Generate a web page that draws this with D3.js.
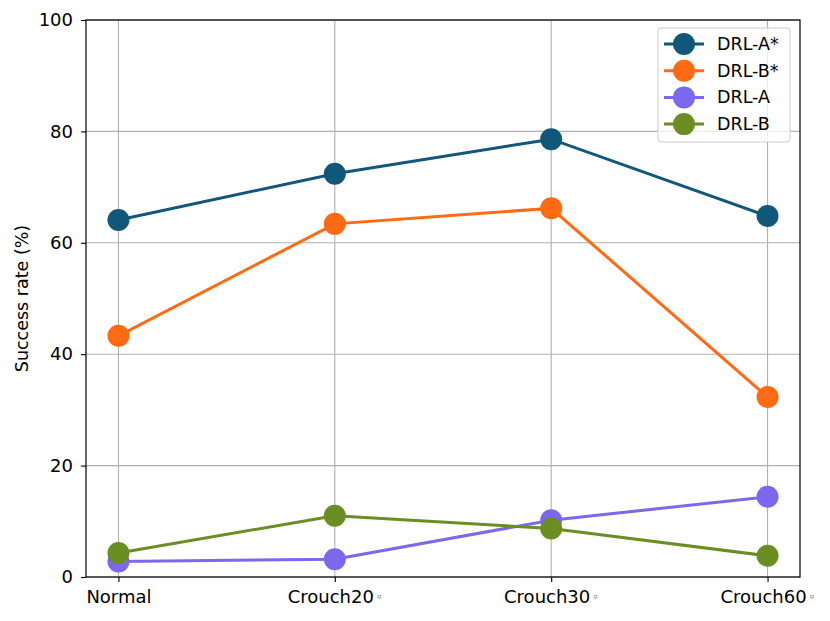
<!DOCTYPE html>
<html>
<head>
<meta charset="utf-8">
<script src="https://cdn.jsdelivr.net/npm/d3@7"></script>
<style>
  body { margin: 0; background: #fff; }
  text { font-family: "DejaVu Sans", sans-serif; }
</style>
</head>
<body>
<div id="chart"></div>
<script>
// data
var categories = ['Normal', 'Crouch20', 'Crouch30', 'Crouch60'];
var seriesNames = ['DRL-A*', 'DRL-B*', 'DRL-A', 'DRL-B'];
var drlAStar = [64.1, 72.4, 78.6, 64.8];
var drlBStar = [43.3, 63.4, 66.2, 32.3];
var drlA = [2.8, 3.2, 10.2, 14.4];
var drlB = [4.3, 11.0, 8.7, 3.8];
var colors = ['#10577a', '#ff6a13', '#7b68ee', '#6b8e23'];
var yTicks = [0, 20, 40, 60, 80, 100];

var series = [drlAStar, drlBStar, drlA, drlB];

var W = 830, H = 621;
var m = {left: 86, right: 30, top: 20, bottom: 44};

var svg = d3.select('#chart').append('svg').attr('width', W).attr('height', H);

var x = d3.scaleLinear().domain([-0.15, 3.15]).range([m.left, W - m.right]);
var y = d3.scaleLinear().domain([0, 100]).range([H - m.bottom, m.top]);

// grid
var g = svg.append('g');
g.selectAll('.gx').data(categories).enter().append('line')
  .attr('x1', function(d, i) { return x(i); }).attr('x2', function(d, i) { return x(i); })
  .attr('y1', y(0)).attr('y2', y(100))
  .attr('stroke', '#b0b0b0').attr('stroke-width', 1.1);
g.selectAll('.gy').data(yTicks).enter().append('line')
  .attr('x1', x.range()[0]).attr('x2', x.range()[1])
  .attr('y1', function(d) { return y(d); }).attr('y2', function(d) { return y(d); })
  .attr('stroke', '#b0b0b0').attr('stroke-width', 1.1);

// lines + markers
var line = d3.line().x(function(d, i) { return x(i); }).y(function(d) { return y(d); });
series.forEach(function(s, k) {
  svg.append('path').datum(s).attr('d', line)
    .attr('fill', 'none').attr('stroke', colors[k]).attr('stroke-width', 3);
  svg.selectAll('.m' + k).data(s).enter().append('circle')
    .attr('cx', function(d, i) { return x(i); })
    .attr('cy', function(d) { return y(d); })
    .attr('r', 11).attr('fill', colors[k]);
});

// frame
svg.append('rect').attr('x', x.range()[0]).attr('y', y(100))
  .attr('width', x.range()[1] - x.range()[0]).attr('height', y(0) - y(100))
  .attr('fill', 'none').attr('stroke', '#000').attr('stroke-width', 1.2);

// axes
var yAxis = svg.append('g').attr('transform', 'translate(' + m.left + ',0)')
  .call(d3.axisLeft(y).tickValues(yTicks).tickSize(5).tickPadding(8));
var xAxis = svg.append('g').attr('transform', 'translate(0,' + y(0) + ')')
  .call(d3.axisBottom(x).tickValues([0, 1, 2, 3]).tickSize(5).tickPadding(8)
    .tickFormat(function(d) { return categories[d]; }));
[xAxis, yAxis].forEach(function(a) {
  a.select('.domain').remove();
  a.selectAll('line').attr('stroke', '#000').attr('stroke-width', 1.1);
  a.selectAll('text').attr('font-size', 18).attr('fill', '#000')
    .style('font-family', '"DejaVu Sans", sans-serif');
});
xAxis.selectAll('text').each(function(d) {
  if (d > 0) {
    var t = d3.select(this);
    t.append('tspan').attr('font-size', 12).attr('dx', 2).attr('dy', -2).text('\u25E6');
  }
});

svg.append('text')
  .attr('transform', 'translate(28,' + ((y(0) + y(100)) / 2) + ') rotate(-90)')
  .attr('text-anchor', 'middle').attr('font-size', 17.5).text('Success rate (%)');

// legend
var lg = svg.append('g').attr('transform', 'translate(658,28)');
lg.append('rect').attr('width', 132).attr('height', 114).attr('rx', 3)
  .attr('fill', '#fff').attr('fill-opacity', 0.8)
  .attr('stroke', '#cccccc').attr('stroke-width', 1);
seriesNames.forEach(function(n, k) {
  var yy = 16 + k * 26.7;
  lg.append('line').attr('x1', 6).attr('x2', 46).attr('y1', yy).attr('y2', yy)
    .attr('stroke', colors[k]).attr('stroke-width', 3);
  lg.append('circle').attr('cx', 26).attr('cy', yy).attr('r', 11).attr('fill', colors[k]);
  lg.append('text').attr('x', 59).attr('y', yy + 6).attr('font-size', 17.5).text(n);
});
</script>
</body>
</html>
